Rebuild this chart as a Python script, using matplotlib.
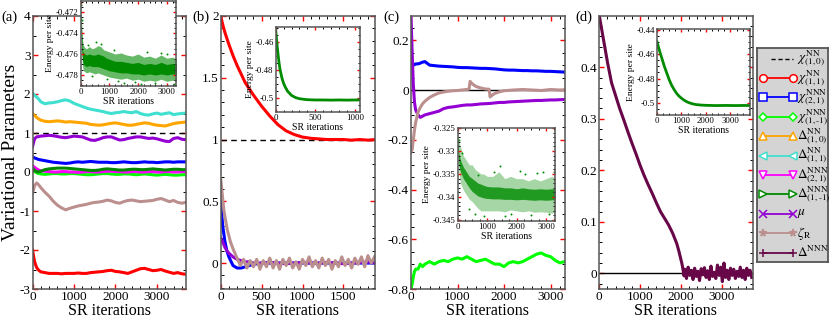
import matplotlib
matplotlib.use("Agg")
from matplotlib import pyplot as plt
from matplotlib.ticker import MultipleLocator, FuncFormatter

plt.rcParams['font.family'] = ['Liberation Serif', 'DejaVu Serif']
plt.rcParams['mathtext.fontset'] = 'stix'

# ---------------- data ----------------
# panel (a)
a_iter = [0, 50, 100, 150, 200, 300, 400, 500, 600, 700, 800, 900, 1000, 1100, 1200,
          1300, 1400, 1500, 1600, 1700, 1800, 1900, 2000, 2100, 2200, 2300, 2400, 2500,
          2600, 2700, 2800, 2900, 3000, 3100, 3200, 3300, 3400, 3500, 3600, 3680]
a_chi11 = [-2.0, -2.3, -2.45, -2.52, -2.56, -2.58, -2.6, -2.6, -2.6, -2.61, -2.6, -2.6, -2.6,
           -2.59, -2.6, -2.6, -2.58, -2.57, -2.56, -2.55, -2.53, -2.52, -2.55, -2.56, -2.58,
           -2.6, -2.56, -2.52, -2.48, -2.47, -2.5, -2.53, -2.52, -2.5, -2.54, -2.57, -2.6,
           -2.58, -2.61, -2.62]
a_chi21 = [0.39, 0.36, 0.34, 0.32, 0.31, 0.29, 0.27, 0.25, 0.24, 0.23, 0.22, 0.23, 0.25, 0.26,
           0.25, 0.26, 0.27, 0.26, 0.25, 0.25, 0.25, 0.24, 0.24, 0.25, 0.26, 0.25, 0.24, 0.24,
           0.25, 0.26, 0.25, 0.25, 0.24, 0.25, 0.26, 0.26, 0.25, 0.26, 0.26, 0.26]
a_chi1m1 = [0.06, 0.02, -0.02, -0.04, -0.05, -0.06, -0.05, -0.04, -0.04, -0.05, -0.05, -0.04,
            -0.04, -0.05, -0.06, -0.07, -0.07, -0.06, -0.05, -0.04, -0.04, -0.05, -0.06, -0.06,
            -0.05, -0.05, -0.06, -0.07, -0.06, -0.05, -0.06, -0.07, -0.08, -0.07, -0.06, -0.07,
            -0.08, -0.08, -0.07, -0.07]
a_del10 = [1.5, 1.45, 1.4, 1.36, 1.33, 1.3, 1.29, 1.3, 1.31, 1.3, 1.28, 1.29, 1.28, 1.27, 1.26,
           1.25, 1.22, 1.21, 1.2, 1.21, 1.23, 1.25, 1.26, 1.24, 1.22, 1.2, 1.2, 1.22, 1.24, 1.26,
           1.25, 1.22, 1.2, 1.19, 1.18, 1.21, 1.24, 1.26, 1.27, 1.28]
a_del11 = [2.02, 1.97, 1.92, 1.87, 1.8, 1.75, 1.77, 1.78, 1.8, 1.83, 1.85, 1.82, 1.76, 1.72,
           1.68, 1.64, 1.61, 1.59, 1.57, 1.55, 1.52, 1.5, 1.52, 1.53, 1.55, 1.53, 1.52, 1.55,
           1.5, 1.47, 1.46, 1.49, 1.51, 1.48, 1.5, 1.52, 1.47, 1.49, 1.5, 1.51]
a_del21 = [0.16, 0.12, 0.08, 0.05, 0.03, 0.02, 0.01, 0.0, 0.0, 0.01, 0.01, 0.0, 0.0, -0.01, 0.0,
           0.01, 0.01, 0.0, 0.0, 0.01, 0.02, 0.02, 0.01, 0.01, 0.0, 0.0, 0.01, 0.01, 0.0, 0.0,
           0.01, 0.01, 0.0, 0.0, 0.01, 0.01, 0.0, 0.0, 0.01, 0.01]
a_del1m1 = [0.1, 0.04, 0.01, 0.0, 0.02, 0.06, 0.08, 0.09, 0.1, 0.1, 0.1, 0.09, 0.08, 0.07, 0.06,
            0.05, 0.04, 0.04, 0.05, 0.07, 0.08, 0.07, 0.06, 0.05, 0.05, 0.06, 0.07, 0.07, 0.06,
            0.06, 0.07, 0.08, 0.07, 0.06, 0.05, 0.06, 0.07, 0.07, 0.06, 0.06]
a_mu = [0.65, 0.85, 0.9, 0.91, 0.92, 0.93, 0.94, 0.93, 0.91, 0.89, 0.88, 0.9, 0.92, 0.91, 0.9,
        0.86, 0.82, 0.81, 0.84, 0.88, 0.9, 0.9, 0.86, 0.82, 0.83, 0.86, 0.88, 0.9, 0.9, 0.88,
        0.86, 0.87, 0.85, 0.82, 0.79, 0.78, 0.86, 0.88, 0.84, 0.83]
a_zeta = [-0.55, -0.35, -0.28, -0.33, -0.4, -0.52, -0.62, -0.75, -0.85, -0.92, -0.97, -0.93,
          -0.9, -0.87, -0.85, -0.83, -0.8, -0.78, -0.77, -0.75, -0.72, -0.74, -0.78, -0.8,
          -0.76, -0.73, -0.72, -0.74, -0.76, -0.75, -0.74, -0.73, -0.7, -0.68, -0.72, -0.76,
          -0.73, -0.78, -0.8, -0.78]

# panel (b)
b_iter = [0, 25, 50, 75, 100, 150, 200, 250, 300, 350, 400, 500, 600, 700, 800, 900, 1000,
          1100, 1200, 1300, 1400, 1500, 1600, 1700, 1800, 1890]
b_chi11 = [2.0, 1.93, 1.87, 1.82, 1.77, 1.68, 1.6, 1.53, 1.46, 1.41, 1.36, 1.27, 1.19, 1.12,
           1.07, 1.04, 1.02, 1.01, 1.005, 1.0, 1.0, 1.0, 0.995, 1.0, 0.995, 1.0]
b_chi21 = [0.5, 0.3, 0.18, 0.1, 0.05, -0.02, -0.04, -0.04, -0.03, -0.02, -0.01, 0.0, 0.0, 0.0,
           0.0, 0.0, 0.0, 0.0, 0.0, 0.0, 0.0, 0.0, 0.0, 0.0, 0.0, 0.0]
b_mu = [0.2, 0.17, 0.13, 0.1, 0.08, 0.05, 0.03, 0.02, 0.01, 0.01, 0.0, 0.0, 0.005, 0.0, -0.005,
        0.0, 0.005, 0.0, 0.0, 0.005, 0.0, -0.005, 0.0, 0.005, 0.01, 0.005]
b_zeta_iter = list(range(0, 1881, 40))
b_zeta = [0.68, 0.42, 0.27, 0.17, 0.1, 0.04, -0.02, 0.03, -0.04, 0.02, -0.03, 0.03, -0.05,
          0.02, -0.03, 0.04, -0.04, 0.02, -0.05, 0.03, -0.02, 0.04, -0.04, 0.01, -0.05, 0.03,
          -0.02, 0.05, -0.03, 0.02, -0.04, 0.04, -0.02, 0.03, -0.05, 0.02, -0.03, 0.05, -0.02,
          0.03, -0.04, 0.04, -0.01, 0.05, -0.03, 0.06, 0.0, 0.05]

# panel (c)
c_iter = [0, 25, 50, 75, 100, 150, 200, 250, 300, 400, 500, 600, 700, 800, 900, 1000, 1100,
          1200, 1300, 1400, 1500, 1600, 1700, 1800, 1900, 2000, 2100, 2200, 2300, 2400, 2500,
          2600, 2700, 2800, 2900, 3000, 3100, 3200, 3300]
c_chi21 = [0.1, 0.1, 0.1, 0.102, 0.105, 0.105, 0.108, 0.112, 0.114, 0.1, 0.098, 0.096, 0.095,
           0.094, 0.093, 0.091, 0.09, 0.09, 0.089, 0.088, 0.087, 0.087, 0.086, 0.085, 0.083,
           0.081, 0.08, 0.08, 0.079, 0.078, 0.078, 0.077, 0.077, 0.076, 0.075, 0.075, 0.074,
           0.073, 0.072]
c_chi1m1 = [-0.8, -0.78, -0.75, -0.73, -0.72, -0.72, -0.7, -0.71, -0.7, -0.69, -0.7, -0.69,
            -0.685, -0.69, -0.68, -0.675, -0.68, -0.67, -0.68, -0.69, -0.685, -0.68, -0.69,
            -0.7, -0.7, -0.71, -0.695, -0.69, -0.695, -0.69, -0.68, -0.67, -0.66, -0.655,
            -0.665, -0.67, -0.685, -0.695, -0.69]
c_mu = [0.3, 0.15, 0.02, -0.05, -0.08, -0.1, -0.11, -0.105, -0.1, -0.095, -0.09, -0.085,
        -0.075, -0.07, -0.068, -0.065, -0.062, -0.06, -0.06, -0.058, -0.056, -0.055, -0.054,
        -0.052, -0.05, -0.05, -0.048, -0.047, -0.046, -0.045, -0.044, -0.043, -0.042, -0.042,
        -0.041, -0.04, -0.04, -0.039, -0.038]
c_zeta_iter = [0, 25, 50, 75, 100, 150, 200, 250, 300, 400, 500, 600, 700, 800, 900, 1000,
               1100, 1200, 1250, 1270, 1300, 1350, 1400, 1500, 1600, 1680, 1700, 1750, 1800,
               1900, 2000, 2200, 2400, 2600, 2800, 3000, 3200, 3300]
c_zeta = [-0.25, -0.24, -0.2, -0.16, -0.13, -0.09, -0.07, -0.055, -0.045, -0.03, -0.02,
          -0.012, -0.008, -0.005, -0.003, -0.002, 0.0, 0.002, 0.004, 0.035, 0.028, 0.02, 0.014,
          0.008, 0.004, 0.003, -0.028, -0.02, -0.014, -0.007, -0.003, 0.0, 0.002, 0.0, -0.002,
          0.002, 0.0, 0.001]

# panel (d)
d_iter = [0, 100, 200, 300, 400, 500, 600, 700, 800, 900, 1000, 1100, 1200, 1300, 1400, 1500,
          1600, 1700, 1800, 1900, 1950, 2000, 2030, 2060, 2080] + list(range(2100, 3741, 40))
d_delta = [0.5, 0.455, 0.41, 0.37, 0.345, 0.32, 0.298, 0.275, 0.253, 0.232, 0.21, 0.19, 0.172,
           0.155, 0.137, 0.12, 0.107, 0.094, 0.078, 0.058, 0.044, 0.028, 0.018, 0.005, -0.005,
           0.008, -0.01, 0.012, -0.004, 0.006, -0.012, 0.01, -0.006, 0.004, -0.014, 0.009,
           -0.003, 0.011, -0.008, 0.005, -0.012, 0.014, -0.006, 0.002, -0.01, 0.016, -0.004,
           0.012, -0.016, 0.02, -0.008, 0.006, -0.012, 0.01, -0.004, 0.008, -0.01, 0.004,
           -0.006, 0.012, -0.008, 0.006, -0.012, 0.01, -0.004, 0.006, -0.008]

# insets: energy per site
ia_iter = [0, 20, 40, 60, 80, 100, 150, 200, 300, 400, 500, 600, 700, 800, 900, 1000, 1200,
           1400, 1600, 1800, 2000, 2200, 2400, 2600, 2800, 3000, 3200, 3350]
ia_top = [-0.4711, -0.4722, -0.4735, -0.4745, -0.4750, -0.4752, -0.4754, -0.4755, -0.4753,
          -0.4755, -0.4754, -0.4752, -0.4753, -0.4756, -0.4757, -0.4758, -0.4760, -0.4759,
          -0.4761, -0.4762, -0.4760, -0.4763, -0.4762, -0.4764, -0.4761, -0.4764, -0.4763, -0.4765]
ia_hi = [-0.4716, -0.4730, -0.4745, -0.4755, -0.4758, -0.4759, -0.4760, -0.4761, -0.4760,
         -0.4761, -0.4761, -0.4760, -0.4761, -0.4762, -0.4764, -0.4765, -0.4767, -0.4767,
         -0.4768, -0.4769, -0.4768, -0.4770, -0.4769, -0.4770, -0.4768, -0.4770, -0.4769, -0.4770]
ia_lo = [-0.4722, -0.4740, -0.4756, -0.4764, -0.4768, -0.4770, -0.4771, -0.4772, -0.4771,
         -0.4772, -0.4772, -0.4772, -0.4773, -0.4774, -0.4775, -0.4776, -0.4777, -0.4778,
         -0.4778, -0.4779, -0.4779, -0.4780, -0.4779, -0.4780, -0.4779, -0.4780, -0.4779, -0.4780]
ia_bot = [-0.4726, -0.4748, -0.4762, -0.4770, -0.4774, -0.4776, -0.4777, -0.4778, -0.4777,
          -0.4778, -0.4779, -0.4778, -0.4779, -0.4780, -0.4781, -0.4782, -0.4783, -0.4784,
          -0.4783, -0.4785, -0.4784, -0.4786, -0.4785, -0.4786, -0.4784, -0.4786, -0.4785, -0.4786]
ia_out_x = [10, 30, 250, 520, 700, 1150, 1500, 1900, 2300, 2600, 3000, 3250, 400, 1300, 2100, 2800, 900]
ia_out_y = [-0.4713, -0.4728, -0.4751, -0.4749, -0.4750, -0.4756, -0.4788, -0.4787, -0.4758,
            -0.4788, -0.4760, -0.4789, -0.4781, -0.4786, -0.4789, -0.4759, -0.4784]

ib_iter = [0, 10, 20, 30, 40, 50, 60, 80, 100, 120, 150, 200, 250, 300, 350, 400, 500, 600,
           700, 800, 900, 1000, 1060]
ib_e = [-0.452, -0.458, -0.464, -0.469, -0.474, -0.478, -0.481, -0.486, -0.4895, -0.492,
        -0.495, -0.498, -0.4995, -0.5003, -0.5007, -0.501, -0.5012, -0.5012, -0.5013, -0.5012,
        -0.5013, -0.5012, -0.5012]

ic_iter = [0, 50, 100, 200, 300, 400, 500, 600, 700, 800, 900, 1000, 1200, 1400, 1600, 1800,
           2000, 2200, 2400, 2600, 2800, 3000, 3200, 3300]
ic_top = [-0.3255, -0.328, -0.329, -0.331, -0.332, -0.333, -0.333, -0.334, -0.3345, -0.335,
          -0.335, -0.3355, -0.3355, -0.3345, -0.336, -0.3355, -0.336, -0.336, -0.3365, -0.336,
          -0.3365, -0.336, -0.3355, -0.336]
ic_hi = [-0.327, -0.3305, -0.332, -0.3335, -0.3345, -0.3355, -0.336, -0.3365, -0.337, -0.3372,
         -0.3375, -0.3377, -0.3378, -0.3378, -0.338, -0.338, -0.3382, -0.338, -0.3382, -0.3383,
         -0.3382, -0.3383, -0.3382, -0.3382]
ic_lo = [-0.3285, -0.333, -0.3345, -0.336, -0.337, -0.338, -0.3388, -0.3393, -0.3398, -0.340,
         -0.3402, -0.3403, -0.3404, -0.3404, -0.3405, -0.3405, -0.3406, -0.3405, -0.3406,
         -0.3407, -0.3406, -0.3407, -0.3406, -0.3406]
ic_bot = [-0.3295, -0.335, -0.337, -0.3385, -0.3395, -0.3405, -0.341, -0.3418, -0.3425, -0.343,
          -0.343, -0.343, -0.343, -0.343, -0.3432, -0.3428, -0.343, -0.3432, -0.343, -0.3433,
          -0.3432, -0.3433, -0.3435, -0.3432]
ic_out_x = [60, 150, 400, 600, 900, 1250, 1450, 1800, 2100, 2500, 2700, 2900, 3100, 3250, 700, 1600, 2300]
ic_out_y = [-0.3275, -0.3305, -0.3425, -0.3436, -0.3442, -0.3345, -0.3333, -0.3437, -0.3343,
            -0.3440, -0.3348, -0.3345, -0.3437, -0.3345, -0.3352, -0.3442, -0.3350]

id_iter = [0, 50, 100, 200, 300, 400, 500, 600, 700, 800, 900, 1000, 1100, 1200, 1300, 1400,
           1500, 1600, 1800, 2000, 2400, 2800, 3200, 3600, 3800]
id_e = [-0.450, -0.4535, -0.457, -0.4635, -0.470, -0.4755, -0.481, -0.4855, -0.489, -0.492,
        -0.4943, -0.496, -0.4975, -0.4987, -0.4996, -0.5003, -0.5008, -0.5012, -0.5016, -0.5018,
        -0.502, -0.5019, -0.502, -0.5019, -0.502]

# ---------------- styles ----------------
RED, BLUE, LIME, ORANGE = '#ff0000', '#0000ff', '#00ff00', '#ffa500'
TURQ, MAG, DKGREEN, VIOLET = '#40e0d0', '#ff00ff', '#008b00', '#9400d3'
BROWN, MAROON = '#bc8f8f', '#670748'
LW = 2.2

W, H = 830, 321
fig = plt.figure(figsize=(W / 100, H / 100), dpi=100)


def px_axes(l, r, t, b):
    return fig.add_axes([l / W, 1 - b / H, (r - l) / W, (b - t) / H])


fmt = FuncFormatter(lambda v, p: '%g' % (round(v, 6) + 0.0))


def style(ax, xmaj, xmin, ymaj, ymin, fs, inset=False):
    ax.xaxis.set_major_locator(MultipleLocator(xmaj))
    ax.xaxis.set_minor_locator(MultipleLocator(xmin))
    ax.yaxis.set_major_locator(MultipleLocator(ymaj))
    ax.yaxis.set_minor_locator(MultipleLocator(ymin))
    ax.xaxis.set_major_formatter(fmt)
    ax.yaxis.set_major_formatter(fmt)
    ax.tick_params(which='both', direction='in', top=True, right=True,
                   labelsize=fs, pad=1.5)
    ax.tick_params(which='major', color='red', length=2.5 if inset else 3.8, width=1)
    ax.tick_params(which='minor', color='black', length=1.3 if inset else 2, width=0.7)
    for s in ax.spines.values():
        s.set_color('#555555')
        s.set_linewidth(1.1)


# ---------------- panel (a) ----------------
ax = px_axes(32.5, 186, 16, 289)
ax.axhline(1, color='k', ls='--', lw=1, dashes=(4, 3))
for ys, c in [(a_chi11, RED), (a_chi21, BLUE), (a_chi1m1, LIME), (a_del10, ORANGE),
              (a_del11, TURQ), (a_del21, MAG), (a_del1m1, DKGREEN), (a_mu, VIOLET),
              (a_zeta, BROWN)]:
    ax.plot(a_iter, ys, color=c, lw=LW)
ax.set_xlim(0, 3700)
ax.set_ylim(-3, 4)
style(ax, 1000, 200, 1, 0.5, 9.5)
ax.set_xlabel('SR iterations', fontsize=11.5, labelpad=0)
ax.set_ylabel('Variational Parameters', fontsize=14)
ax.yaxis.set_label_coords(-0.085, 0.5)

# ---------------- panel (b) ----------------
ax = px_axes(220.7, 375, 16, 289)
ax.axhline(1, color='k', ls='--', lw=1, dashes=(4, 3))
ax.plot(b_iter, b_chi11, color=RED, lw=LW)
ax.plot(b_iter, b_chi21, color=BLUE, lw=LW)
ax.plot(b_iter, b_mu, color=VIOLET, lw=LW)
ax.plot(b_zeta_iter, b_zeta, color=BROWN, lw=LW)
ax.set_xlim(0, 1886)
ax.set_ylim(-0.21, 2)
style(ax, 500, 100, 0.5, 0.1, 9.5)
ax.set_xlabel('SR iterations', fontsize=11.5, labelpad=0)

# ---------------- panel (c) ----------------
ax = px_axes(411, 564.5, 16, 289)
ax.axhline(0, color='k', lw=1)
ax.plot(c_iter, c_chi21, color=BLUE, lw=LW)
ax.plot(c_iter, c_chi1m1, color=LIME, lw=LW)
ax.plot(c_iter, c_mu, color=VIOLET, lw=LW)
ax.plot(c_zeta_iter, c_zeta, color=BROWN, lw=LW)
ax.set_xlim(0, 3300)
ax.set_ylim(-0.8, 0.2975)
style(ax, 1000, 200, 0.2, 0.05, 9.5)
ax.set_xlabel('SR iterations', fontsize=11.5, labelpad=0)

# ---------------- panel (d) ----------------
ax = px_axes(599.3, 752.5, 16, 289)
ax.axhline(0, color='k', lw=1)
ax.plot(d_iter, d_delta, color=MAROON, lw=LW)
ax.set_xlim(0, 3760)
ax.set_ylim(-0.0304, 0.4995)
style(ax, 1000, 200, 0.1, 0.02, 9.5)
ax.set_xlabel('SR iterations', fontsize=11.5, labelpad=0)

# ---------------- insets ----------------
def inset(l, r, t, b):
    a = px_axes(l, r, t, b)
    a.set_xlabel('SR iterations', fontsize=7, labelpad=0.5)
    a.set_ylabel('Energy per site', fontsize=6.8, labelpad=1)
    return a


ax = inset(80.7, 176, 1, 86)
ax.fill_between(ia_iter, ia_bot, ia_top, color=DKGREEN, alpha=0.6, lw=0)
ax.fill_between(ia_iter, ia_lo, ia_hi, color=DKGREEN, lw=0)
ax.scatter(ia_out_x, ia_out_y, s=2, color=DKGREEN, lw=0)
ax.set_xlim(0, 3320)
ax.set_ylim(-0.47905, -0.47095)
style(ax, 1000, 200, 0.002, 0.0005, 6.3, inset=True)

ax = inset(275.7, 360, 26.7, 112)
ax.plot(ib_iter, ib_e, color=DKGREEN, lw=2)
ax.set_xlim(0, 1063)
ax.set_ylim(-0.5097, -0.4494)
style(ax, 500, 100, 0.02, 0.005, 6.3, inset=True)

ax = inset(457.5, 555, 128, 221)
ax.fill_between(ic_iter, ic_bot, ic_top, color=DKGREEN, alpha=0.35, lw=0)
ax.fill_between(ic_iter, ic_lo, ic_hi, color=DKGREEN, alpha=0.8, lw=0)
ax.scatter(ic_out_x, ic_out_y, s=2, color=DKGREEN, lw=0)
ax.set_xlim(0, 3300)
ax.set_ylim(-0.3452, -0.325)
style(ax, 1000, 250, 0.005, 0.001, 6.3, inset=True)

ax = inset(657, 750, 29, 115)
ax.plot(id_iter, id_e, color=DKGREEN, lw=2)
ax.set_xlim(0, 3800)
ax.set_ylim(-0.5097, -0.4395)
style(ax, 1000, 250, 0.02, 0.005, 6.3, inset=True)

# ---------------- panel tags ----------------
for x, tag in [(1, '(a)'), (192, '(b)'), (383, '(c)'), (575, '(d)')]:
    fig.text(x / W, 1 - 17 / H, tag, fontsize=10.5, va='center', ha='left')

# ---------------- legend (grace style box, drawn in its own axes) ----------------
leg_labels = [r'$\chi^{\rm NN}_{(1,0)}$', r'$\chi^{\rm NN}_{(1,1)}$', r'$\chi^{\rm NNN}_{(2,1)}$',
              r'$\chi^{\rm NNN}_{(1,\text{-}1)}$', r'$\Delta^{\rm NN}_{(1,0)}$',
              r'$\Delta^{\rm NN}_{(1,1)}$', r'$\Delta^{\rm NNN}_{(2,1)}$',
              r'$\Delta^{\rm NNN}_{(1,\text{-}1)}$', r'$\mu$', r'$\zeta_{\rm R}$', r'$\Delta^{\rm NNN}$']
leg_colors = ['k', RED, BLUE, LIME, ORANGE, TURQ, MAG, DKGREEN, VIOLET, BROWN, MAROON]
leg_markers = [None, 'o', 's', 'D', '^', '<', 'v', '>', 'x', '*', '+']

lax = px_axes(757, 828, 48, 262)
lax.set_facecolor('#d4d4d4')
lax.set_xlim(0, 1)
lax.set_ylim(0, 1)
lax.set_xticks([])
lax.set_yticks([])
for s in lax.spines.values():
    s.set_color('#555555')
    s.set_linewidth(1.3)
for i, (lab, c, m) in enumerate(zip(leg_labels, leg_colors, leg_markers)):
    yy = 1 - (58.5 + 19.4 * i - 48) / 214
    if m is None:
        lax.plot([0.2, 0.5], [yy, yy], color=c, lw=1, ls='--', dashes=(3, 2))
    else:
        lax.plot([0.08, 0.5], [yy, yy], color=c, lw=1.3, marker=m,
                 ms=5.5 if m != 'D' else 4.2,
                 mfc='white' if m not in 'x*+' else c, mec=c, mew=1.1)
    lax.text(0.57, yy, lab, fontsize=9.5, va='center', ha='left')

fig.savefig('out.png', dpi=100)
